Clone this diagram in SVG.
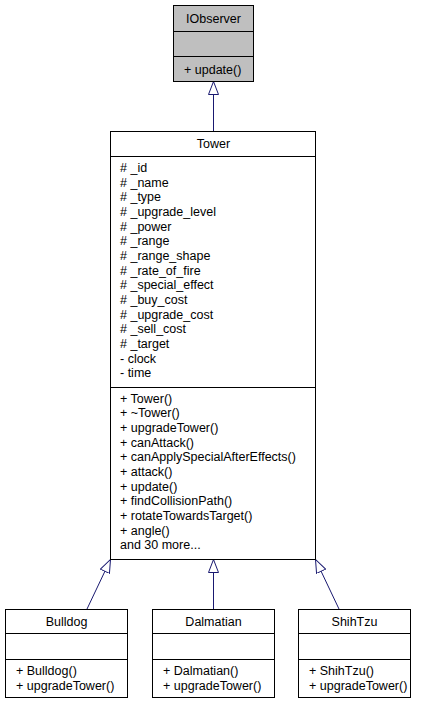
<svg xmlns="http://www.w3.org/2000/svg" width="427" height="705" viewBox="0 0 427 705">
<style>
.box{fill:#ffffff;stroke:#000000;stroke-width:1}
.gray{fill:#bfbfbf}
.div{stroke:#000000;stroke-width:1}
text{font-family:"Liberation Sans",Arial,sans-serif;font-size:12.5px;fill:#000000}
.c{text-anchor:middle}
.edge{stroke:#191970;stroke-width:1;fill:none;marker-end:url(#tri)}
</style>
<defs>
<marker id="tri" viewBox="0 0 14 11" refX="13.5" refY="5.5" markerWidth="14" markerHeight="11" markerUnits="userSpaceOnUse" orient="auto">
<path d="M0.5,0.5 L13.5,5.5 L0.5,10.5 Z" fill="#ffffff" stroke="#191970" stroke-width="1"/>
</marker>
</defs>
<rect width="427" height="705" fill="#ffffff"/>
<g id="connectors">
<line class="edge" x1="213.5" y1="131" x2="213.5" y2="81.5"/>
<line class="edge" x1="87" y1="609" x2="110.5" y2="559.5"/>
<line class="edge" x1="213.5" y1="609" x2="213.5" y2="559.5"/>
<line class="edge" x1="339" y1="609" x2="315.5" y2="559.5"/>
</g>
<g id="IObserver">
<rect class="box gray" x="173.5" y="5.5" width="80" height="76"/>
<line class="div" x1="173.5" y1="31.5" x2="253.5" y2="31.5"/>
<line class="div" x1="173.5" y1="56.5" x2="253.5" y2="56.5"/>
<text class="c" x="213.5" y="22.5">IObserver</text>
<text x="184" y="73.5">+ update()</text>
</g>
<g id="Tower">
<rect class="box" x="110.5" y="131.5" width="205" height="428"/>
<line class="div" x1="110.5" y1="156.5" x2="315.5" y2="156.5"/>
<line class="div" x1="110.5" y1="387.5" x2="315.5" y2="387.5"/>
<text class="c" x="213.5" y="147.5">Tower</text>
<text x="120" y="172">
<tspan x="120" y="172"># _id</tspan>
<tspan x="120" y="186.7"># _name</tspan>
<tspan x="120" y="201.3"># _type</tspan>
<tspan x="120" y="216"># _upgrade_level</tspan>
<tspan x="120" y="230.7"># _power</tspan>
<tspan x="120" y="245.3"># _range</tspan>
<tspan x="120" y="260"># _range_shape</tspan>
<tspan x="120" y="274.7"># _rate_of_fire</tspan>
<tspan x="120" y="289.3"># _special_effect</tspan>
<tspan x="120" y="304"># _buy_cost</tspan>
<tspan x="120" y="318.7"># _upgrade_cost</tspan>
<tspan x="120" y="333.3"># _sell_cost</tspan>
<tspan x="120" y="348"># _target</tspan>
<tspan x="120" y="362.7">- clock</tspan>
<tspan x="120" y="377.3">- time</tspan>
</text>
<text x="120" y="402.5">
<tspan x="120" y="402.5">+ Tower()</tspan>
<tspan x="120" y="417.2">+ ~Tower()</tspan>
<tspan x="120" y="431.8">+ upgradeTower()</tspan>
<tspan x="120" y="446.5">+ canAttack()</tspan>
<tspan x="120" y="461.2">+ canApplySpecialAfterEffects()</tspan>
<tspan x="120" y="475.8">+ attack()</tspan>
<tspan x="120" y="490.5">+ update()</tspan>
<tspan x="120" y="505.2">+ findCollisionPath()</tspan>
<tspan x="120" y="519.8">+ rotateTowardsTarget()</tspan>
<tspan x="120" y="534.5">+ angle()</tspan>
<tspan x="120" y="549.2">and 30 more...</tspan>
</text>
</g>
<g id="Bulldog">
<rect class="box" x="5.5" y="609.5" width="122" height="88"/>
<line class="div" x1="5.5" y1="633.5" x2="127.5" y2="633.5"/>
<line class="div" x1="5.5" y1="659.5" x2="127.5" y2="659.5"/>
<text class="c" x="66.5" y="626">Bulldog</text>
<text x="16" y="674.5">+ Bulldog()</text>
<text x="16" y="690">+ upgradeTower()</text>
</g>
<g id="Dalmatian">
<rect class="box" x="152.5" y="609.5" width="122" height="88"/>
<line class="div" x1="152.5" y1="633.5" x2="274.5" y2="633.5"/>
<line class="div" x1="152.5" y1="659.5" x2="274.5" y2="659.5"/>
<text class="c" x="213.5" y="626">Dalmatian</text>
<text x="163" y="674.5">+ Dalmatian()</text>
<text x="163" y="690">+ upgradeTower()</text>
</g>
<g id="ShihTzu">
<rect class="box" x="298.5" y="609.5" width="112" height="88"/>
<line class="div" x1="298.5" y1="633.5" x2="410.5" y2="633.5"/>
<line class="div" x1="298.5" y1="659.5" x2="410.5" y2="659.5"/>
<text class="c" x="354.5" y="626">ShihTzu</text>
<text x="309" y="674.5">+ ShihTzu()</text>
<text x="309" y="690">+ upgradeTower()</text>
</g>
</svg>
